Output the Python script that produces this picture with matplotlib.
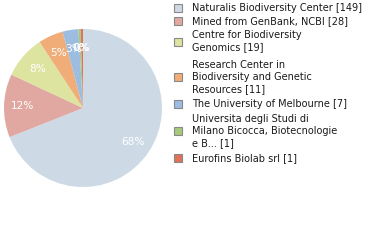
import matplotlib
matplotlib.use("Agg")
import matplotlib.pyplot as plt
from matplotlib.patches import Rectangle

labels = [
    "Naturalis Biodiversity Center [149]",
    "Mined from GenBank, NCBI [28]",
    "Centre for Biodiversity\nGenomics [19]",
    "Research Center in\nBiodiversity and Genetic\nResources [11]",
    "The University of Melbourne [7]",
    "Universita degli Studi di\nMilano Bicocca, Biotecnologie\ne B... [1]",
    "Eurofins Biolab srl [1]",
]
values = [149, 28, 19, 11, 7, 1, 1]
colors = ["#cdd9e5", "#e0a8a0", "#dde4a0", "#f0ad78", "#9cbde0", "#a8c97c", "#e0725a"]

W, H = 380, 240
fig = plt.figure(figsize=(W / 100, H / 100), dpi=100)

cx, cy, r = 83, 108, 79
ax = fig.add_axes([(cx - r) / W, (H - cy - r) / H, 2 * r / W, 2 * r / H])
ax.pie(values, colors=colors, startangle=90, counterclock=False,
       autopct=lambda p: f"{int(p)}%", pctdistance=0.76,
       wedgeprops=dict(linewidth=0),
       textprops=dict(color="white", fontsize=7.6, family="DejaVu Sans"))
ax.set_xlim(-1, 1)
ax.set_ylim(-1, 1)
ax.set_aspect("equal")
ax.axis("off")

# legend
line_h = 12.5
pad = 2.0
y = 2.0
sq = 8
for lab, col in zip(labels, colors):
    n = lab.count("\n") + 1
    p = pad if n > 1 else 0.0
    block_h = n * line_h + 2 * p
    yc = y + block_h / 2
    fig.patches.append(Rectangle((174 / W, (H - yc - sq / 2) / H), sq / W, sq / H,
                                 transform=fig.transFigure, facecolor=col,
                                 edgecolor="#888888", linewidth=0.8))
    fig.text(192 / W, (H - yc) / H, lab, ha="left", va="center", fontsize=7.0,
             color="#1a1a1a", linespacing=1.27, family="DejaVu Sans")
    y += block_h

fig.savefig("out.png", dpi=100)
